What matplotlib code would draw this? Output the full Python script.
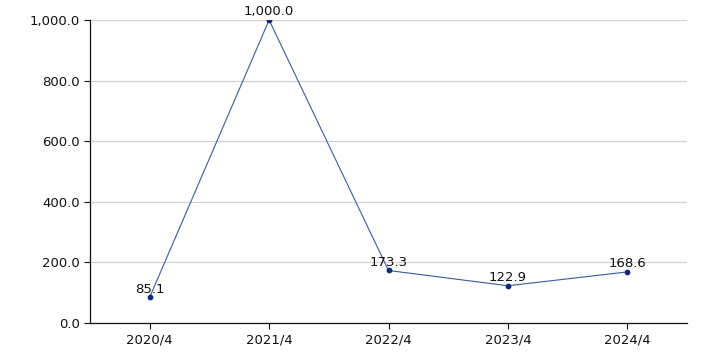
import matplotlib
matplotlib.use('Agg')
import matplotlib.pyplot as plt
from matplotlib.ticker import FuncFormatter

categories = ['2020/4', '2021/4', '2022/4', '2023/4', '2024/4']
values = [85.1, 1000.0, 173.3, 122.9, 168.6]
y_ticks = [0, 200, 400, 600, 800, 1000]

plt.rcParams['font.family'] = ['DejaVu Sans']

fig = plt.figure(figsize=(7.06, 3.53), dpi=100)
ax = fig.add_axes([90/706, 1-323/353, (687-90)/706, (323-20)/353])

x = list(range(len(categories)))
ax.plot(x, values, color='#3a5ba0', linewidth=0.8, zorder=3)
ax.scatter(x, values, s=10, color='#0d2c7a', zorder=4)
for xi, v in zip(x, values):
    ax.annotate(f'{v:,.1f}', (xi, v), xytext=(0, 1.2), textcoords='offset points',
                ha='center', va='bottom', fontsize=9.5, color='#111111', zorder=5)

ax.set_xlim(-0.5, len(categories) - 0.5)
ax.set_ylim(0, 1000)
ax.set_xticks(x)
ax.set_xticklabels(categories)
ax.set_yticks(y_ticks)
ax.yaxis.set_major_formatter(FuncFormatter(lambda v, p: f'{v:,.1f}'))
ax.tick_params(axis='both', labelsize=9.5, colors='#111111', length=4, width=0.8)
ax.grid(axis='y', color='#d3d3d3', linewidth=0.9)
ax.set_axisbelow(True)
for s in ['top', 'right']:
    ax.spines[s].set_visible(False)
for s in ['left', 'bottom']:
    ax.spines[s].set_color('#111111')
    ax.spines[s].set_linewidth(0.9)

fig.savefig('out.png', dpi=100)
